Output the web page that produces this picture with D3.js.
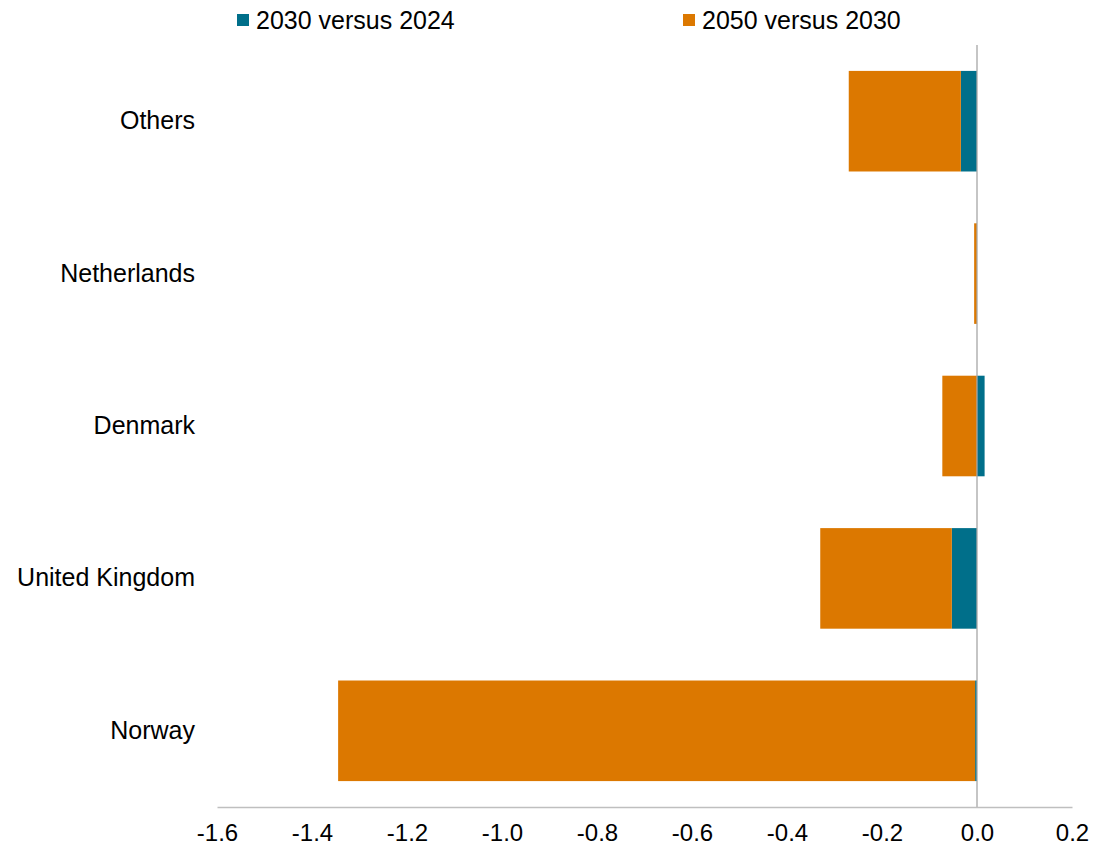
<!DOCTYPE html>
<html>
<head>
<meta charset="utf-8">
<script src="https://cdn.jsdelivr.net/npm/d3@7"></script>
<style>
  html, body { margin: 0; padding: 0; background: #fff; }
  svg { display: block; font-family: "Liberation Sans", Arial, sans-serif; }
</style>
</head>
<body>
<svg id="chart" width="1096" height="850"></svg>
<script>
// Change in output by country (top to bottom)
const categories = ["Others", "Netherlands", "Denmark", "United Kingdom", "Norway"];
const series = ["2030 versus 2024", "2050 versus 2030"];
const change2030vs2024 = [-0.034, 0.0, 0.016, -0.053, -0.004];
const change2050vs2030 = [-0.236, -0.006, -0.073, -0.277, -1.341];
const xTicks = [-1.6, -1.4, -1.2, -1.0, -0.8, -0.6, -0.4, -0.2, 0.0, 0.2];
const colors = ["#006F8A", "#DC7800"];

const svg = d3.select("#chart");
const margin = { top: 45, right: 24, bottom: 43, left: 217 };
const width = 1096, height = 850;

const x = d3.scaleLinear().domain([-1.6, 0.2]).range([margin.left, width - margin.right]);
const y = d3.scaleBand().domain(categories).range([margin.top, height - margin.bottom]).paddingInner(0.34).paddingOuter(0.17);

// Diverging stack: positives build right from zero, negatives build left
const rows = categories.map((c, i) => ({ cat: c, vals: [change2030vs2024[i], change2050vs2030[i]] }));
const segs = [];
rows.forEach(r => {
  let pos = 0, neg = 0;
  r.vals.forEach((v, s) => {
    let x0, x1;
    if (v >= 0) { x0 = pos; x1 = pos + v; pos = x1; }
    else { x1 = neg; x0 = neg + v; neg = x0; }
    segs.push({ cat: r.cat, s, x0, x1 });
  });
});

svg.append("g").selectAll("rect").data(segs).join("rect")
  .attr("x", d => x(d.x0))
  .attr("width", d => Math.max(0, x(d.x1) - x(d.x0)))
  .attr("y", d => y(d.cat))
  .attr("height", y.bandwidth())
  .attr("fill", d => colors[d.s]);

// Zero line
svg.append("line")
  .attr("x1", x(0)).attr("x2", x(0))
  .attr("y1", margin.top).attr("y2", height - margin.bottom)
  .attr("stroke", "#A6A6A6").attr("stroke-width", 1.3);

// Bottom axis
const xAxis = d3.axisBottom(x).tickValues(xTicks).tickSize(0).tickPadding(17)
  .tickFormat(d => d3.format(".1f")(d).replace("−", "-"));
const gx = svg.append("g").attr("transform", `translate(0,${height - margin.bottom})`).call(xAxis);
gx.select(".domain").attr("stroke", "#BFBFBF").attr("stroke-width", 1.3);
gx.selectAll("text").attr("font-size", 24).attr("fill", "#000").attr("font-family", "Liberation Sans, Arial, sans-serif");

// Category labels
const yAxis = d3.axisLeft(y).tickSize(0).tickPadding(22);
const gy = svg.append("g").attr("transform", `translate(${margin.left},0)`).call(yAxis);
gy.select(".domain").remove();
gy.selectAll("text").attr("font-size", 25).attr("fill", "#000").attr("font-family", "Liberation Sans, Arial, sans-serif");

// Legend
const legendX = [237, 683];
const lg = svg.append("g").selectAll("g").data(series).join("g")
  .attr("transform", (d, i) => `translate(${legendX[i]},0)`);
lg.append("rect").attr("x", 0).attr("y", 14).attr("width", 12).attr("height", 12)
  .attr("fill", (d, i) => colors[i]);
lg.append("text").attr("x", 19).attr("y", 29).attr("font-size", 25).attr("fill", "#000")
  .text(d => d);
</script>
</body>
</html>
